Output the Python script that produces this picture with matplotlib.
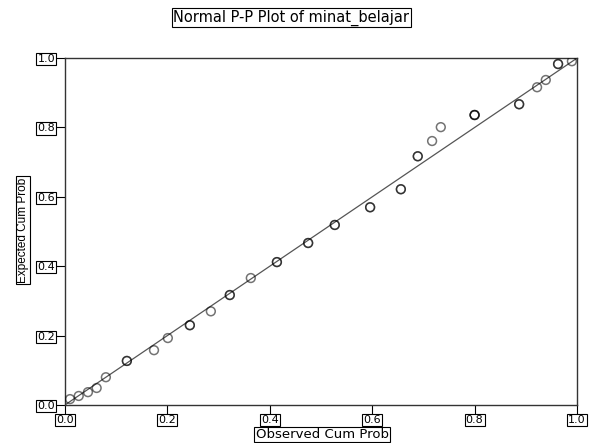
import matplotlib.pyplot as plt
import numpy as np

plt.rcParams['font.family'] = ['DejaVu Sans']

# observed / expected cumulative probabilities
observed = [0.010, 0.027, 0.045, 0.062, 0.080, 0.121, 0.174, 0.201, 0.244, 0.285,
            0.322, 0.363, 0.414, 0.475, 0.527, 0.596, 0.656, 0.689, 0.717, 0.734,
            0.800, 0.887, 0.922, 0.939, 0.963, 0.990]
expected = [0.017, 0.026, 0.037, 0.049, 0.080, 0.127, 0.158, 0.193, 0.230, 0.270,
            0.317, 0.366, 0.412, 0.467, 0.519, 0.570, 0.622, 0.717, 0.761, 0.801,
            0.836, 0.867, 0.916, 0.937, 0.983, 0.991]
# number of cases at each point (tied cases draw darker)
counts = [1, 1, 1, 1, 1, 2, 1, 1, 2, 1,
          2, 1, 2, 2, 2, 2, 2, 2, 1, 1,
          3, 2, 1, 1, 2, 1]
ticks = [0.0, 0.2, 0.4, 0.6, 0.8, 1.0]

box = dict(boxstyle='square,pad=0.1', fc='none', ec='black', lw=0.8)

fig = plt.figure(figsize=(5.9, 4.43), dpi=100)
ax = fig.add_axes([0.110, 0.0858, 0.868, 0.783])

ax.plot([0, 1], [0, 1], color='#555555', lw=0.9, zorder=2)
for x, y, n in zip(observed, expected, counts):
    for _ in range(n):
        ax.scatter(x, y, s=40, facecolors='none', edgecolors='black',
                   linewidths=1.1, alpha=0.55, zorder=3)

ax.set_xlim(0, 1)
ax.set_ylim(0, 1)
ax.set_xticks(ticks)
ax.set_yticks(ticks)
ax.set_xticklabels([f'{t:.1f}' for t in ticks])
ax.set_yticklabels([f'{t:.1f}' for t in ticks])
ax.tick_params(direction='out', length=6.5, width=0.8, labelsize=8, pad=0.6)
for lab in ax.get_xticklabels() + ax.get_yticklabels():
    lab.set_bbox(box)
for sp in ax.spines.values():
    sp.set_linewidth(1.0)
    sp.set_color('#333333')

fig.text(0.494, 0.960, 'Normal P-P Plot of minat_belajar', ha='center', va='center',
         fontsize=10.5, bbox=box)
fig.text(0.546, 0.019, 'Observed Cum Prob', ha='center', va='center',
         fontsize=9.5, bbox=box)
fig.text(0.039, 0.481, 'Expected Cum Prob', ha='center', va='center',
         rotation=90, fontsize=8.5, family='Liberation Sans', bbox=box)

fig.savefig('out.png', dpi=100)
